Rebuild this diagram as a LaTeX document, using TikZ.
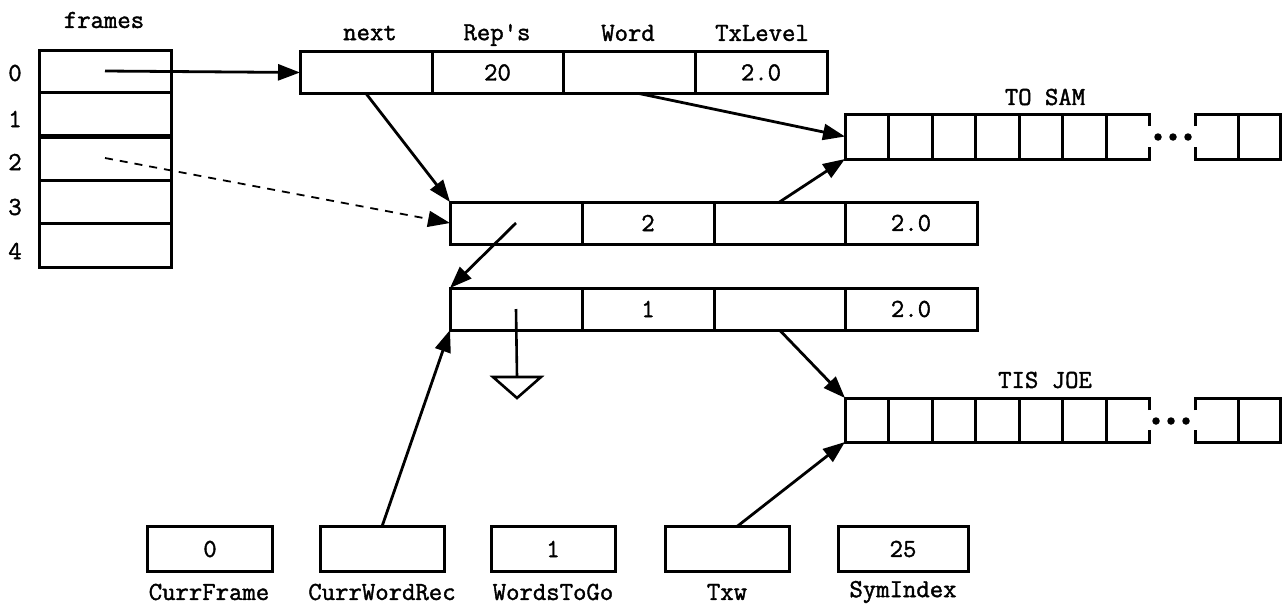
\documentclass[tikz,border=0pt]{standalone}
\usepackage{fontspec}
\newfontfamily\tfont[FakeBold=1.5]{Latin Modern Mono}
\usetikzlibrary{arrows.meta}
\begin{document}
\begin{tikzpicture}[x=1pt,y=-1pt,
  fld/.style={draw, line width=3pt, inner sep=0pt, outer sep=0pt, font=\tfont\fontsize{26}{26}\selectfont},
  rec/.style={fld, minimum width=132pt, minimum height=42pt},
  frm/.style={fld, minimum width=132pt},
  lbl/.style={font=\tfont\fontsize{26}{28}\selectfont, inner sep=0pt},
  ptr/.style={line width=2.8pt, -{Triangle[length=22pt,width=16pt]}},
  dptr/.style={line width=1.8pt, dash pattern=on 8pt off 7pt, -{Triangle[length=22pt,width=16pt]}},
  arr/.style={line width=3pt},
  dot/.style={fill=black, inner sep=0pt, minimum size=7.5pt, circle},
  anchorbox/.style={inner sep=0pt, outer sep=0pt},
]
\useasboundingbox (0,0) rectangle (1285,606);
% frames array
\node[lbl] (frameslbl) at (104,20) {frames};
\node[frm, minimum height=42pt] (f0) at (105,71) {};
\node[frm, minimum height=44pt] (f1) at (105,114) {};
\node[frm, minimum height=44pt] (f2) at (105,158) {};
\node[frm, minimum height=43pt] (f3) at (105,201.5) {};
\node[frm, minimum height=44pt] (f4) at (105,245) {};
\draw[line width=5pt] (f1.south west) -- (f1.south east);
\node[lbl] (i0) at (15,73) {0};
\node[lbl] (i1) at (15,119) {1};
\node[lbl] (i2) at (15,162) {2};
\node[lbl] (i3) at (15,207) {3};
\node[lbl] (i4) at (15,251) {4};
% top record
\node[rec] (r1a) at (366,72.5) {};
\node[rec, minimum width=131pt] (r1b) at (497.5,72.5) {20};
\node[rec] (r1c) at (629,72.5) {};
\node[rec] (r1d) at (761,72.5) {2.0};
\node[lbl] (hnext) at (370,33) {next};
\node[lbl] (hreps) at (497,35) {Rep's};
\node[lbl] (hword) at (628,33) {Word};
\node[lbl] (htx) at (762,33) {TxLevel};
% second record
\node[rec] (r2a) at (516,223) {};
\node[rec] (r2b) at (648,223) {2};
\node[rec, minimum width=131pt] (r2c) at (779.5,223) {};
\node[rec] (r2d) at (911,223) {2.0};
% third record
\node[rec] (r3a) at (516,309) {};
\node[rec] (r3b) at (648,309) {1};
\node[rec, minimum width=131pt] (r3c) at (779.5,309) {};
\node[rec] (r3d) at (911,309) {2.0};
% TO SAM array
\node[anchorbox, minimum width=304.5pt, minimum height=45pt] (tosam) at (997.25,136.5) {};
\node[lbl] (tosamlbl) at (1045,97) {TO SAM};
\draw[arr] (1149.5,126) -- (1149.5,114) -- (845,114) -- (845,159) -- (1149.5,159) -- (1149.5,147);
\foreach \x in {888.5,932,975.5,1019,1062.5,1106} \draw[arr] (\x,114) -- (\x,159);
\draw[arr] (1195,126) -- (1195,114) -- (1280,114) -- (1280,159) -- (1195,159) -- (1195,147);
\draw[arr] (1238,114) -- (1238,159);
\node[dot] (ds1) at (1158,137) {};
\node[dot] (ds2) at (1173,137) {};
\node[dot] (ds3) at (1188,137) {};
% TIS JOE array
\node[anchorbox, minimum width=304.5pt, minimum height=44pt] (tisjoe) at (997.25,420) {};
\node[lbl] (tisjoelbl) at (1045,380) {TIS JOE};
\draw[arr] (1149.5,410) -- (1149.5,398) -- (845,398) -- (845,442) -- (1149.5,442) -- (1149.5,430);
\foreach \x in {888.5,932,975.5,1019,1062.5,1106} \draw[arr] (\x,398) -- (\x,442);
\draw[arr] (1195,410) -- (1195,398) -- (1280,398) -- (1280,442) -- (1195,442) -- (1195,430);
\draw[arr] (1238,398) -- (1238,442);
\node[dot] (dj1) at (1156,421) {};
\node[dot] (dj2) at (1171,421) {};
\node[dot] (dj3) at (1186,421) {};
% bottom variables
\node[fld, minimum width=125pt, minimum height=45pt] (cf) at (210,549) {0};
\node[fld, minimum width=124pt, minimum height=45pt] (cwr) at (382,549) {};
\node[fld, minimum width=124pt, minimum height=45pt] (wtg) at (553,549) {1};
\node[fld, minimum width=124pt, minimum height=45pt] (txw) at (727,549) {};
\node[fld, minimum width=130pt, minimum height=45pt] (sym) at (903,549) {25};
\node[lbl] (lcf) at (209,592) {CurrFrame};
\node[lbl] (lcwr) at (382,592) {CurrWordRec};
\node[lbl] (lwtg) at (553,592) {WordsToGo};
\node[lbl] (ltxw) at (727,592) {Txw};
\node[lbl] (lsym) at (903,592) {SymIndex};
% ground
\coordinate (gnd) at (517,377);
\draw[line width=2.6pt] (r3a.center) -- (gnd);
\draw[line width=2.6pt, line join=miter] (493,377) -- (541,377) -- (517,398) -- cycle;
% pointers
\draw[ptr] (f0.center) -- (r1a.west);
\draw[dptr] (f2.center) -- (r2a.west);
\draw[ptr] (r1a.south) -- (r2a.north west);
\draw[ptr] ([xshift=10pt]r1c.south) -- (tosam.west);
\draw[ptr] (r2c.north) -- (tosam.south west);
\draw[ptr] (r2a.center) -- (r3a.north west);
\draw[ptr] (r3c.south) -- (tisjoe.north west);
\draw[ptr] ([xshift=10pt]txw.north) -- (tisjoe.south west);
\draw[ptr] (cwr.north) -- (r3a.south west);
\end{tikzpicture}
\end{document}
